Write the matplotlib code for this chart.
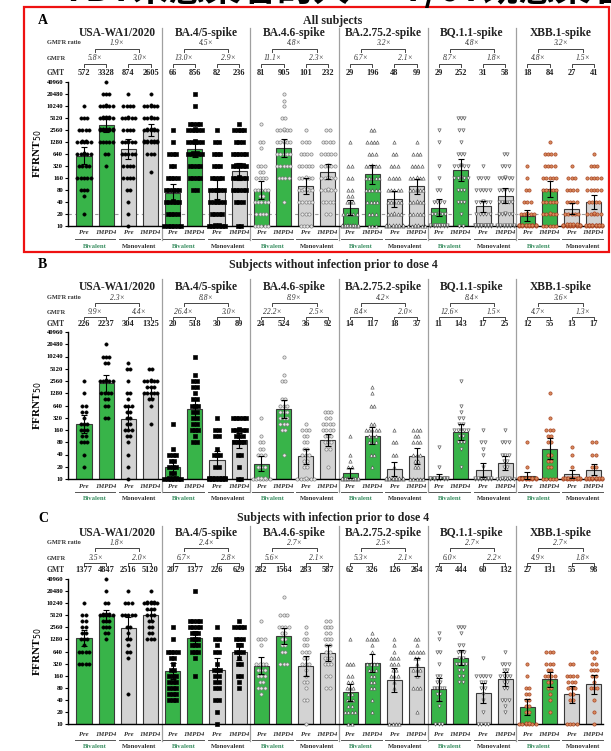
import numpy as np
import matplotlib
matplotlib.use('Agg')
import matplotlib.pyplot as plt
from matplotlib.transforms import blended_transform_factory
from matplotlib.patches import Rectangle

W, H = 611, 751
SERIF = 'Liberation Serif'

VARIANTS = ['USA-WA1/2020', 'BA.4/5-spike', 'BA.4.6-spike', 'BA.2.75.2-spike', 'BQ.1.1-spike', 'XBB.1-spike']
COL_LABELS = ['Pre', '1MPD4', 'Pre', '1MPD4']
VACCINES = ['Bivalent', 'Monovalent']
YTICKS = [10, 20, 40, 80, 160, 320, 640, 1280, 2560, 5120, 10240, 20480, 40960]

# ---------------- panel A : all subjects ----------------
A_GMT = [[572, 3328, 874, 2605], [66, 856, 82, 236], [81, 905, 101, 232],
         [29, 196, 48, 99], [29, 252, 31, 58], [18, 84, 27, 41]]
A_GMFR = [['5.8×', '3.0×'], ['13.0×', '2.9×'], ['11.1×', '2.3×'],
          ['6.7×', '2.1×'], ['8.7×', '1.8×'], ['4.8×', '1.5×']]
A_RATIO = ['1.9×', '4.5×', '4.8×', '3.2×', '4.8×', '3.2×']
# individual titers, {titer: number of subjects}
A_POINTS = [
    [{10240: 1, 5120: 3, 2560: 4, 1280: 7, 640: 6, 320: 4, 160: 5, 80: 3, 56: 1, 20: 1},
     {40960: 1, 20480: 3, 10240: 6, 5120: 8, 2560: 10, 1280: 5, 640: 2, 320: 1},
     {20480: 1, 10240: 4, 5120: 6, 2560: 4, 1280: 6, 640: 5, 320: 4, 160: 4, 80: 2, 40: 1, 20: 1, 10: 1},
     {20480: 1, 10240: 6, 5120: 6, 2560: 8, 1280: 10, 640: 3, 226: 1}],
    [{2560: 1, 1280: 1, 640: 3, 320: 2, 160: 4, 80: 5, 40: 6, 20: 4, 10: 6},
     {20480: 1, 10240: 1, 3600: 4, 2560: 6, 1280: 6, 640: 7, 320: 4, 160: 4, 80: 2},
     {2560: 1, 1280: 2, 640: 3, 320: 3, 160: 4, 80: 5, 40: 6, 20: 4, 10: 8},
     {3600: 1, 2560: 4, 1280: 3, 640: 5, 320: 8, 160: 6, 80: 5, 40: 3, 10: 2}],
    [{3600: 1, 1280: 2, 905: 1, 320: 3, 226: 2, 160: 4, 80: 5, 56: 2, 40: 5, 20: 4, 10: 5},
     {20480: 1, 14000: 1, 10240: 1, 5120: 2, 2560: 6, 1280: 6, 640: 5, 320: 5, 160: 4, 40: 1},
     {2560: 1, 1280: 3, 640: 4, 320: 5, 160: 6, 80: 7, 40: 5, 20: 3, 10: 4},
     {2560: 2, 1280: 4, 640: 5, 320: 6, 160: 6, 80: 6, 40: 4, 20: 2}],
    [{1280: 1, 320: 2, 160: 2, 80: 2, 56: 2, 40: 3, 20: 6, 10: 15},
     {2560: 2, 1280: 4, 640: 3, 320: 6, 160: 5, 80: 5, 40: 4, 20: 3, 10: 3},
     {1280: 1, 640: 2, 320: 3, 160: 4, 80: 5, 40: 5, 20: 6, 10: 12},
     {1280: 1, 640: 3, 320: 4, 160: 6, 80: 6, 40: 6, 20: 5, 10: 8}],
    [{2560: 1, 1280: 1, 320: 1, 160: 1, 80: 2, 40: 4, 20: 6, 10: 15},
     {5120: 3, 2560: 2, 1280: 1, 640: 3, 320: 6, 160: 6, 80: 3, 40: 3, 20: 1, 10: 2},
     {320: 1, 160: 4, 80: 5, 40: 6, 20: 5, 10: 18},
     {640: 2, 320: 3, 160: 6, 80: 5, 40: 5, 20: 6, 10: 12}],
    [{320: 1, 160: 1, 80: 2, 40: 3, 20: 6, 10: 18},
     {1280: 1, 640: 4, 320: 4, 160: 5, 80: 5, 40: 5, 20: 6, 10: 5},
     {320: 1, 160: 3, 80: 4, 40: 4, 20: 5, 10: 22},
     {640: 1, 320: 3, 160: 5, 80: 5, 40: 4, 20: 6, 10: 16}],
]

# ---------------- panel B : without infection ----------------
B_GMT = [[226, 2237, 304, 1325], [20, 518, 30, 89], [24, 524, 36, 92],
         [14, 117, 18, 37], [11, 143, 17, 25], [12, 55, 13, 17]]
B_GMFR = [['9.9×', '4.4×'], ['26.4×', '3.0×'], ['22.2×', '2.5×'],
          ['8.4×', '2.0×'], ['12.6×', '1.5×'], ['4.7×', '1.3×']]
B_RATIO = ['2.3×', '8.8×', '8.9×', '4.2×', '8.4×', '3.6×']
B_POINTS = [
    [{2560: 1, 1280: 1, 640: 2, 453: 2, 320: 1, 226: 3, 160: 3, 113: 2, 80: 3, 40: 1, 20: 1},
     {20480: 1, 10240: 3, 7000: 2, 2560: 6, 1280: 4, 905: 2, 640: 2, 320: 2},
     {7000: 1, 5120: 2, 2560: 1, 1280: 2, 905: 1, 640: 3, 453: 2, 320: 2, 226: 2, 160: 3, 113: 2, 80: 1, 40: 1, 20: 1, 10: 1},
     {5120: 2, 2560: 6, 1810: 3, 1280: 5, 905: 2, 640: 1, 226: 1}],
    [{226: 1, 56: 1, 40: 3, 28: 2, 20: 3, 14: 2, 10: 9},
     {10240: 1, 3600: 1, 2560: 2, 1810: 2, 1280: 1, 905: 2, 640: 3, 453: 2, 320: 2, 226: 2, 160: 3, 113: 1, 80: 2},
     {320: 1, 160: 2, 113: 2, 56: 1, 40: 3, 20: 2, 10: 12},
     {320: 5, 160: 6, 113: 3, 80: 4, 40: 2, 20: 1, 10: 2}],
    [{320: 1, 113: 1, 80: 2, 56: 2, 40: 3, 20: 3, 10: 9},
     {10240: 1, 3600: 1, 2560: 2, 905: 2, 640: 3, 453: 3, 320: 3, 226: 3, 160: 2, 40: 1},
     {226: 1, 160: 3, 113: 2, 80: 2, 56: 2, 40: 3, 28: 2, 20: 2, 10: 7},
     {453: 3, 320: 2, 226: 4, 160: 4, 113: 3, 80: 3, 56: 2, 20: 1}],
    [{113: 1, 40: 1, 28: 1, 20: 2, 10: 15},
     {1810: 1, 1280: 1, 640: 2, 226: 2, 160: 5, 113: 3, 80: 3, 40: 2, 20: 1},
     {160: 1, 80: 2, 40: 2, 20: 1, 10: 14},
     {160: 3, 113: 2, 80: 3, 40: 3, 28: 2, 20: 2, 10: 5}],
    [{60: 1, 20: 1, 10: 18},
     {2560: 1, 640: 1, 453: 1, 320: 2, 226: 2, 160: 5, 113: 2, 80: 3, 56: 1, 20: 1},
     {160: 1, 80: 2, 56: 1, 40: 1, 20: 1, 10: 14},
     {160: 1, 80: 3, 40: 3, 28: 2, 20: 2, 10: 9}],
    [{80: 1, 20: 1, 10: 18},
     {1280: 1, 320: 1, 160: 3, 113: 2, 80: 2, 40: 2, 28: 2, 20: 2, 10: 5},
     {60: 1, 40: 1, 20: 1, 10: 17},
     {80: 2, 40: 2, 20: 2, 10: 14}],
]

# ---------------- panel C : with infection ----------------
C_GMT = [[1377, 4847, 2516, 5120], [207, 1377, 226, 629], [282, 1564, 283, 587],
         [62, 326, 126, 264], [74, 444, 60, 132], [27, 131, 55, 98]]
C_GMFR = [['3.5×', '2.0×'], ['6.7×', '2.8×'], ['5.6×', '2.1×'],
          ['5.3×', '2.1×'], ['6.0×', '2.2×'], ['4.9×', '1.8×']]
C_RATIO = ['1.8×', '2.4×', '2.7×', '2.5×', '2.7×', '2.7×']
C_POINTS = [
    [{10240: 1, 5120: 2, 3600: 2, 2560: 2, 1810: 2, 1280: 3, 905: 1, 640: 4, 320: 4},
     {40960: 1, 20480: 1, 10240: 2, 5120: 8, 3600: 3, 2560: 3, 1810: 2, 1280: 1},
     {20480: 1, 10240: 3, 5120: 5, 2560: 2, 1810: 1, 1280: 2, 905: 1, 640: 2, 453: 1, 56: 1},
     {20480: 1, 10240: 8, 7200: 3, 5120: 3, 3600: 2, 2560: 2, 1810: 2, 1280: 3}],
    [{2560: 1, 1280: 1, 640: 4, 453: 2, 320: 1, 226: 2, 160: 3, 113: 3, 80: 3, 56: 3, 40: 3},
     {20480: 1, 3600: 4, 2560: 4, 1810: 3, 1280: 3, 905: 3, 640: 3, 453: 1, 160: 1},
     {2560: 1, 1280: 2, 905: 1, 640: 2, 320: 1, 226: 3, 160: 2, 113: 2, 80: 2, 40: 2, 20: 1, 10: 1},
     {3600: 1, 2560: 4, 1280: 3, 905: 2, 640: 3, 453: 1, 320: 2, 160: 2, 113: 1, 80: 1}],
    [{3600: 1, 1280: 3, 905: 1, 320: 4, 226: 3, 160: 3, 113: 2, 80: 3, 56: 1},
     {14500: 1, 5120: 3, 2560: 4, 1810: 2, 1280: 2, 905: 2, 640: 2, 320: 3},
     {2560: 1, 1810: 1, 1280: 2, 905: 2, 640: 3, 453: 2, 320: 3, 226: 1, 160: 1, 113: 2, 80: 1, 40: 2, 10: 1},
     {3600: 2, 2560: 3, 1810: 2, 1280: 3, 905: 2, 640: 2, 453: 3, 320: 3, 160: 2, 80: 2}],
    [{1280: 1, 320: 3, 160: 2, 113: 2, 80: 3, 56: 2, 40: 3, 28: 2, 20: 4, 10: 2},
     {1810: 1, 1280: 4, 905: 1, 640: 1, 320: 4, 226: 3, 160: 2, 113: 2, 80: 2, 40: 1, 20: 1},
     {1280: 1, 905: 1, 640: 1, 453: 3, 320: 3, 226: 2, 160: 3, 113: 1, 80: 1, 10: 4},
     {1280: 2, 905: 1, 640: 5, 453: 2, 320: 1, 226: 3, 160: 1, 80: 3, 20: 1}],
    [{1810: 1, 1280: 1, 640: 2, 320: 1, 160: 2, 113: 2, 80: 4, 56: 2, 40: 1, 28: 1, 10: 3},
     {2560: 3, 1810: 1, 905: 2, 640: 3, 453: 2, 320: 4, 226: 2, 160: 2, 113: 2},
     {453: 1, 160: 5, 113: 2, 80: 2, 56: 1, 40: 1, 20: 1, 10: 4},
     {640: 1, 320: 3, 226: 2, 160: 4, 113: 2, 80: 2, 40: 3, 28: 1, 20: 1}],
    [{320: 1, 160: 1, 80: 2, 56: 2, 40: 2, 28: 2, 20: 2, 10: 8},
     {640: 3, 320: 3, 226: 2, 160: 4, 113: 2, 80: 2, 56: 1, 40: 1, 20: 1},
     {320: 2, 160: 4, 113: 3, 80: 3, 56: 2, 40: 2, 10: 4},
     {640: 2, 453: 1, 320: 2, 226: 3, 160: 2, 113: 1, 80: 3, 40: 1, 20: 1, 10: 1}],
]

# marker style for each variant: (marker, face, edge)
MARKERS = [('o', 'black', 'black'), ('s', 'black', 'black'), ('o', '#e8e8e8', '#7a7a7a'),
           ('^', 'white', '#555555'), ('v', 'white', '#555555'), ('o', '#d98c5f', '#a33c1c')]
BAR_COLORS = ['#38b449', '#38b449', '#d3d3d3', '#d3d3d3']
VAC_COLORS = ['#3b8f62', '#333333']

# pixel layout of each panel (y in pixels from top)
PANELS = [
    dict(letter='A', title='All subjects', gmt=A_GMT, gmfr=A_GMFR, ratio=A_RATIO, pts=A_POINTS,
         title_y=21, head_y=33, ratio_y=43, rbr_y=49, gmfr_y=58, gbr_y=64, gmt_y=73,
         top=82, bot=226, lab_y=233, und_y=239, vac_y=246, sep=(28, 240), lod=True),
    dict(letter='B', title='Subjects without infection prior to dose 4', gmt=B_GMT, gmfr=B_GMFR,
         ratio=B_RATIO, pts=B_POINTS,
         title_y=265, head_y=287, ratio_y=298, rbr_y=303, gmfr_y=312, gbr_y=317, gmt_y=324,
         top=332, bot=479, lab_y=486, und_y=492, vac_y=499, sep=(279, 492), lod=False),
    dict(letter='C', title='Subjects with infection prior to dose 4', gmt=C_GMT, gmfr=C_GMFR,
         ratio=C_RATIO, pts=C_POINTS,
         title_y=518, head_y=533, ratio_y=543, rbr_y=548, gmfr_y=558, gbr_y=563, gmt_y=570,
         top=579, bot=724, lab_y=734, und_y=740, vac_y=747, sep=(526, 741), lod=False),
]

X0_PX, DX_PX = 84, 22.17        # pixel position of column 0, pixel step per column
XL, XR = -0.72, 23.4            # x-limits in column units


def fy(y):
    return 1 - y / H


def swarm(ax, xc, counts, style):
    m, fc, ec = style
    xs, ys = [], []
    for v, n in counts.items():
        per_row = 6 if v <= 10 else 5
        rows = int(np.ceil(n / per_row))
        left = n
        for r in range(rows):
            k = min(per_row, left)
            left -= k
            if v <= 10:
                yv = v * 2 ** (0.05 * r)
            else:
                yv = v * 2 ** (0.12 * [0, 1, -1, 2, -2][r % 5])
            offs = (np.arange(k) - (k - 1) / 2) * 0.15
            xs.extend(xc + offs)
            ys.extend([yv] * k)
    ax.scatter(xs, ys, s=5.5, marker=m, facecolor=fc, edgecolor=ec, linewidths=0.45,
               zorder=4, clip_on=False)


fig = plt.figure(figsize=(W / 100, H / 100), dpi=100)

# cut-off headline above the figure
fig.text(64 / W, fy(1), '7BT未感染者的人  一T/6T既感染者的人', fontsize=26, fontweight='bold',
         family=['Noto Sans CJK SC', 'DejaVu Sans'], ha='left', va='baseline', color='black')

for P in PANELS:
    left = (X0_PX + XL * DX_PX) / W
    width = (XR - XL) * DX_PX / W
    ax = fig.add_axes([left, fy(P['bot']), width, (P['bot'] - P['top']) / H])
    ax.set_yscale('log', base=2)
    ax.set_ylim(10, 40960)
    ax.set_xlim(XL, XR)
    ax.set_yticks(YTICKS)
    ax.set_yticklabels([str(t) for t in YTICKS], family=SERIF, fontsize=4.8, fontweight='bold')
    ax.minorticks_off()
    ax.set_xticks([])
    for s in ['top', 'right']:
        ax.spines[s].set_visible(False)
    ax.spines['left'].set_linewidth(1.0)
    ax.spines['bottom'].set_linewidth(1.0)
    ax.tick_params(axis='y', length=2.5, width=0.8, pad=1)
    ax.set_ylabel('FFRNT$_{50}$', family=SERIF, fontsize=8, fontweight='bold', labelpad=2)
    tr = blended_transform_factory(ax.transData, fig.transFigure)

    if P['lod']:
        ax.axhline(20, color='#9a9a9a', lw=0.8, ls=(0, (3, 3)), zorder=1)

    for vi, name in enumerate(VARIANTS):
        base = vi * 4
        for ci in range(4):
            xc = base + ci
            g = P['gmt'][vi][ci]
            ax.bar(xc, g - 10, bottom=10, width=0.68, color=BAR_COLORS[ci],
                   edgecolor='#3a3a3a', linewidth=0.8, zorder=2)
            counts = P['pts'][vi][ci]
            swarm(ax, xc, counts, MARKERS[vi])
            vals = np.log2(np.repeat(list(counts.keys()), list(counts.values())))
            ci95 = 1.96 * vals.std(ddof=1) / np.sqrt(len(vals))
            lo, hi = g * 2 ** -ci95, g * 2 ** ci95
            ax.errorbar(xc, g, yerr=[[g - max(lo, 10)], [hi - g]], fmt='none', ecolor='black',
                        elinewidth=0.8, capsize=2.2, capthick=0.8, zorder=5)
            # GMT value and column label
            ax.text(xc, fy(P['gmt_y']), str(g), transform=tr, ha='center', va='center',
                    family=SERIF, fontsize=6, fontweight='bold', color='#222222')
            ax.text(xc, fy(P['lab_y']), COL_LABELS[ci], transform=tr, ha='center', va='center',
                    family=SERIF, fontsize=4.8, style='italic', fontweight='bold', color='#333333')

        # variant header
        ax.text(base + 1.5, fy(P['head_y']), name, transform=tr, ha='center', va='center',
                family=SERIF, fontsize=8.3, fontweight='bold', color='#222222')
        # GMFR brackets
        for k in range(2):
            x1, x2 = base + 2 * k, base + 2 * k + 1
            ax.plot([x1, x1, x2, x2], [fy(P['gbr_y'] + 2.5), fy(P['gbr_y']), fy(P['gbr_y']),
                                       fy(P['gbr_y'] + 2.5)], transform=tr, color='#444444',
                    lw=0.7, clip_on=False)
            ax.text((x1 + x2) / 2, fy(P['gmfr_y']), P['gmfr'][vi][k], transform=tr, ha='center',
                    va='center', family=SERIF, fontsize=5.5, style='italic', color='#333333')
            # underline and vaccine label
            ax.plot([x1 - 0.42, x2 + 0.42], [fy(P['und_y'])] * 2, transform=tr, color='#555555',
                    lw=0.7, clip_on=False)
            ax.text((x1 + x2) / 2, fy(P['vac_y']), VACCINES[k], transform=tr, ha='center',
                    va='center', family=SERIF, fontsize=4.8, fontweight='bold', color=VAC_COLORS[k])
        # GMFR ratio bracket
        x1, x2 = base + 0.5, base + 2.5
        ax.plot([x1, x1, x2, x2], [fy(P['rbr_y'] + 3), fy(P['rbr_y']), fy(P['rbr_y']),
                                   fy(P['rbr_y'] + 3)], transform=tr, color='#444444', lw=0.7,
                clip_on=False)
        ax.text(base + 1.5, fy(P['ratio_y']), P['ratio'][vi], transform=tr, ha='center',
                va='center', family=SERIF, fontsize=5.5, style='italic', color='#333333')
        # separator
        if vi < 5:
            ax.plot([base + 3.5] * 2, [fy(P['sep'][0]), fy(P['sep'][1])], transform=tr,
                    color='#a0a0a0', lw=0.9, clip_on=False)

    # row labels
    for lab, yk in [('GMFR ratio', 'ratio_y'), ('GMFR', 'gmfr_y'), ('GMT', 'gmt_y')]:
        fig.text(47 / W, fy(P[yk]), lab, ha='left', va='center', family=SERIF,
                 fontsize=4.6 if lab != 'GMT' else 5.5, fontweight='bold', color='#333333')
    fig.text(38 / W, fy(P['title_y']), P['letter'], ha='left', va='center', family=SERIF,
             fontsize=10, fontweight='bold')
    fig.text(333 / W, fy(P['title_y']), P['title'], ha='center', va='center', family=SERIF,
             fontsize=8.6, fontweight='bold', color='#222222')

# red frame around panel A
fig.patches.append(Rectangle((24 / W, fy(252)), (609 - 24) / W, (252 - 7) / H,
                             transform=fig.transFigure, fill=False, edgecolor='#ee1111', lw=1.6))

fig.savefig('out.png', dpi=100)
